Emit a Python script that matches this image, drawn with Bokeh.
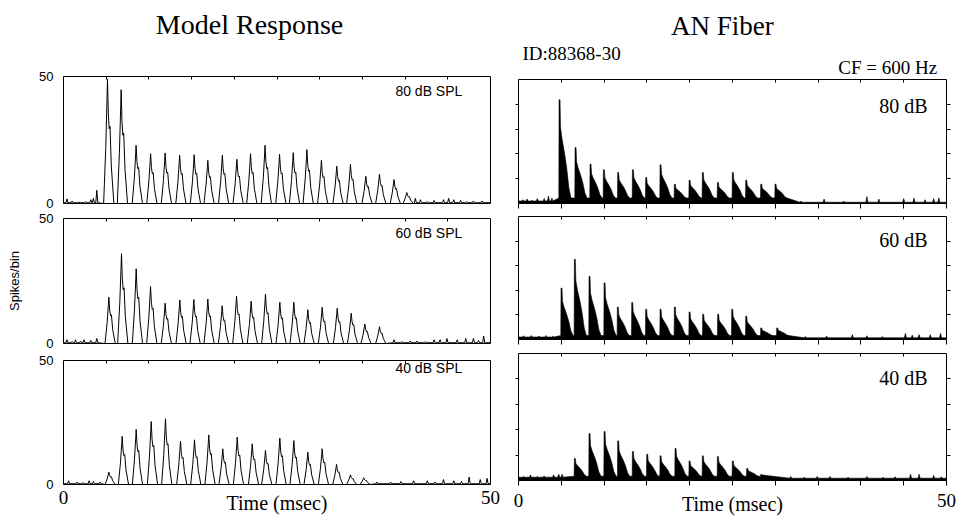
import math
from bokeh.plotting import figure
from bokeh.models import Range1d, LinearAxis, FixedTicker, Label
from bokeh.layouts import row, column
from bokeh.embed import file_html
from bokeh.resources import INLINE

# ---------------- data ----------------
time_range = [0, 50]          # msec
count_range = [0, 50]         # spikes/bin
model_levels = ["80 dB SPL", "60 dB SPL", "40 dB SPL"]
an_levels = ["80 dB", "60 dB", "40 dB"]

# Model response: phase-locked peak times (msec) and heights (spikes/bin)
model80_t = [5.15, 6.75, 8.5, 10.2, 11.9, 13.6, 15.3, 16.9, 18.6, 20.3, 21.9, 23.6, 25.3, 26.9, 28.5, 30.2, 32.0, 33.6, 35.4, 37.0, 38.7, 40.2]
model80_h = [49, 44.8, 22.9, 19.6, 19.9, 19.0, 19.2, 17.0, 19.0, 17.4, 19.6, 22.9, 19.4, 20.0, 21.2, 17.0, 14.7, 15.4, 10.7, 11.5, 9.4, 4.3]
model60_t = [5.31, 6.79, 8.51, 10.19, 11.9, 13.62, 15.26, 16.9, 18.58, 20.26, 21.97, 23.65, 25.33, 26.97, 28.61, 30.29, 32.05, 33.69, 35.28, 37.0]
model60_h = [18.5, 35.9, 29.9, 22.8, 16.1, 17.4, 17.6, 17.8, 15.1, 19.0, 16.9, 19.8, 16.5, 16.5, 13.5, 14.5, 14.1, 12.1, 7.8, 6.7]
model40_t = [5.31, 6.87, 8.51, 10.27, 11.94, 13.7, 15.34, 17.01, 18.65, 20.34, 22.1, 23.65, 25.33, 26.97, 28.61, 30.29, 31.97, 33.6, 35.16]
model40_h = [5.0, 19.4, 22.2, 25.4, 26.5, 17.5, 18.0, 20.0, 14.4, 19.1, 16.4, 13.7, 18.7, 17.7, 13.0, 14.4, 8.1, 3.9, 2.7]

# Model response: spontaneous-activity blips (msec, spikes/bin)
model80_noise_t = [0.4, 1.0, 1.8, 2.6, 3.2, 3.5, 3.9, 41.2, 41.8, 42.6, 43.4, 44.5, 45.1, 45.7, 46.5, 47.2, 48.0, 49.0]
model80_noise_h = [1.8, 1.0, 0.6, 0.8, 1.5, 2.0, 5.2, 2.0, 1.5, 0.8, 1.2, 1.5, 2.0, 1.5, 1.2, 0.8, 1.0, 1.0]
model60_noise_t = [0.4, 1.0, 1.4, 2.0, 2.4, 3.2, 3.9, 38.7, 39.6, 40.6, 41.4, 42.4, 43.4, 44.1, 44.9, 46.1, 47.1, 48.0, 48.6, 49.2]
model60_noise_h = [1.5, 0.8, 1.5, 1.0, 1.5, 1.2, 2.0, 1.5, 0.8, 1.0, 1.0, 0.8, 1.5, 1.5, 2.0, 1.5, 2.0, 2.0, 1.2, 3.0]
model40_noise_t = [0.6, 1.6, 2.3, 3.0, 3.5, 4.3, 36.7, 38.3, 39.5, 41.0, 42.6, 43.5, 44.5, 45.7, 46.6, 47.5, 48.8, 49.6]
model40_noise_h = [1.5, 1.0, 0.8, 1.5, 1.2, 1.0, 1.0, 1.0, 1.2, 1.5, 1.5, 1.0, 2.0, 1.5, 1.2, 3.0, 2.0, 2.5]

# AN fiber: peak times (msec) and heights
an80_t = [4.79, 6.66, 8.41, 9.97, 11.64, 13.36, 14.91, 16.59, 18.26, 19.98, 21.53, 23.29, 25.03, 26.6, 28.35, 30.02]
an80_h = [41.8, 22.6, 15.9, 13.6, 12.5, 13.6, 10.5, 15.6, 7.8, 9.4, 12.5, 8.5, 12.5, 9.4, 7.8, 7.8]
an60_t = [5.02, 6.58, 8.29, 10.05, 11.6, 13.28, 14.91, 16.59, 18.26, 19.98, 21.57, 23.32, 24.96, 26.6, 28.35, 30.22]
an60_h = [20.9, 32.6, 25.7, 23.0, 13.2, 15.0, 12.3, 12.3, 13.2, 11.2, 10.3, 10.3, 12.3, 9.5, 4.7, 4.7]
an40_t = [6.58, 8.29, 10.05, 11.64, 13.36, 15.03, 16.59, 18.34, 19.98, 21.53, 23.29, 25.03, 26.71, 28.35]
an40_h = [8.7, 18.5, 19.3, 15.6, 11.4, 10.3, 9.7, 12.6, 7.7, 9.7, 9.4, 7.7, 4.8, 2.4]

# AN fiber: background levels (before, between peaks, after) and blips
an80_levels = [1.0, 2.2, 0.5]
an60_levels = [1.0, 1.6, 0.7]
an40_levels = [1.3, 1.7, 0.9]
an80_noise_t = [0.5, 1.0, 1.6, 2.2, 3.0, 3.5, 3.9, 33.0, 35.7, 38.0, 40.7, 42.1, 45.0, 46.2, 47.5, 48.5, 49.1]
an80_noise_h = [1.5, 1.8, 1.3, 2.0, 2.0, 3.0, 2.2, 1.0, 1.8, 1.0, 2.8, 1.8, 2.0, 2.2, 1.5, 2.0, 2.3]
an60_noise_t = [0.6, 1.5, 2.4, 3.2, 4.0, 33.5, 36.0, 39.0, 40.7, 42.5, 45.2, 46.0, 46.8, 48.1, 49.3]
an60_noise_h = [1.5, 1.6, 1.4, 1.6, 1.3, 1.2, 1.4, 2.0, 1.5, 1.2, 2.5, 1.8, 2.0, 2.0, 2.5]
an40_noise_t = [0.6, 1.4, 2.2, 3.0, 4.1, 4.7, 5.1, 31.8, 33.4, 34.9, 36.4, 38.5, 40.7, 42.6, 44.0, 45.8, 46.8, 48.5, 49.4]
an40_noise_h = [1.6, 2.2, 1.6, 1.8, 2.2, 2.5, 2.5, 1.6, 1.3, 1.6, 1.6, 1.3, 1.6, 1.3, 1.5, 2.5, 2.5, 2.0, 1.5]

x_ticks_inner = [5, 10, 15, 20, 25, 30, 35, 40, 45]
x_ticks_all = [0, 5, 10, 15, 20, 25, 30, 35, 40, 45, 50]
x_ticks_labelled = [0, 50]
y_ticks_an = [10, 20, 30, 40]
y_ticks_model = [0, 50]

# ---------------- style ----------------
SANS = "Liberation Sans"
SERIF = "Liberation Serif"
# peak shape templates (offset in msec, fraction of peak height)
MODEL_DT = [-0.45, -0.2, -0.05, 0.0, 0.1, 0.2, 0.3, 0.45, 0.75]
MODEL_REL = [0.0, 0.45, 0.85, 1.0, 0.72, 0.6, 0.62, 0.3, 0.0]
AN_DT = [-0.08, -0.05, 0.06, 0.12, 0.3, 0.6, 0.85, 1.1, 1.35]
AN_REL = [0.0, 1.0, 1.0, 0.72, 0.6, 0.45, 0.3, 0.1, 0.0]
BLIP = 0.12


def trace(pt, ph, nt, nh, dt, rel, levels):
    pre, mid, post = levels
    events = []
    for t, h in zip(pt, ph):
        events.append((t, [(t + d, mid + r * (h - mid)) for d, r in zip(dt, rel)]))
    for t, h in zip(nt, nh):
        base = pre if t < pt[0] else post
        events.append((t, [(t - BLIP, base), (t, h), (t + BLIP, base)]))
    events.sort(key=lambda e: e[0])
    xs, ys = [time_range[0]], [pre]
    for _, pts in events:
        for x, y in pts:
            xs.append(x)
            ys.append(y)
    xs.append(time_range[1])
    ys.append(post)
    return xs, ys


def make_fig(w, h, bl, br, bt, bb, y_range=None, outline=True):
    p = figure(width=w, height=h, title=None, x_range=Range1d(*time_range),
               y_range=y_range if y_range is not None else Range1d(*count_range),
               output_backend="svg", toolbar_location=None,
               x_axis_location=None, y_axis_location=None)
    p.min_border_left, p.min_border_right = bl, br
    p.min_border_top, p.min_border_bottom = bt, bb
    p.outline_line_color = "black" if outline else None
    p.outline_line_width = 1
    p.background_fill_color = "white"
    p.border_fill_color = "white"
    p.grid.visible = False
    return p


def tick_axis(ticks, tin, tout):
    return LinearAxis(ticker=FixedTicker(ticks=ticks), major_tick_in=tin, major_tick_out=tout,
                      major_tick_line_color="black", minor_tick_line_color=None,
                      axis_line_color=None, major_label_text_font_size="0px",
                      major_label_text_color=None, major_label_standoff=0)


def label_axis(ticks, size, font, standoff):
    return LinearAxis(ticker=FixedTicker(ticks=ticks), major_tick_in=0, major_tick_out=0,
                      major_tick_line_color=None, minor_tick_line_color=None,
                      axis_line_color=None, major_label_text_font=font,
                      major_label_text_font_size=size, major_label_standoff=standoff,
                      major_label_text_color="black", axis_label_text_font=SERIF,
                      axis_label_text_font_style="normal", axis_label_text_color="black")


def label(p, text, x, y, font, size, align="left"):
    p.add_layout(Label(x=x, y=y, text=text, text_font=font, text_font_size=size,
                       text_align=align, text_baseline="alphabetic", text_color="black"))


# ---------------- left column: model response ----------------
left_head = make_fig(500, 66, 63, 10, 0, 0, y_range=Range1d(0, 66), outline=False)
label(left_head, "Model  Response", 22.2, 42, SERIF, "28px", align="center")

model_data = [
    (model80_t, model80_h, model80_noise_t, model80_noise_h),
    (model60_t, model60_h, model60_noise_t, model60_noise_h),
    (model40_t, model40_h, model40_noise_t, model40_noise_h),
]
left_h = [144, 141, 170]
left_bt = [10, 8, 9]
left_bb = [7, 8, 37]
left_label_y = [44.1, 44.4, 46.8]
left_figs = []
for i, (pt, ph, nt, nh) in enumerate(model_data):
    p = make_fig(500, left_h[i], 63, 10, left_bt[i], left_bb[i])
    xs, ys = trace(pt, ph, nt, nh, MODEL_DT, MODEL_REL, [0.3, 0.0, 0.3])
    p.line(xs, ys, line_color="black", line_width=1)
    p.add_layout(tick_axis(x_ticks_inner, 3, 0), "above")
    yax = label_axis(y_ticks_model, "13px", SANS, 10)
    if i == 1:
        yax.axis_label = "Spikes/bin"
        yax.axis_label_text_font = SANS
        yax.axis_label_text_font_size = "13px"
        yax.axis_label_standoff = 14
    p.add_layout(yax, "left")
    label(p, model_levels[i], 46.7, left_label_y[i], SANS, "14px", align="right")
    left_figs.append(p)

bx = label_axis(x_ticks_labelled, "19px", SERIF, 6)
bx.axis_label = "Time (msec)"
bx.axis_label_text_font_size = "20px"
bx.axis_label_standoff = -15
left_figs[2].add_layout(bx, "below")

# ---------------- right column: AN fiber ----------------
right_head = make_fig(461, 79, 18, 15, 0, 0, y_range=Range1d(0, 79), outline=False)
label(right_head, "AN   Fiber", 24.6, 54, SERIF, "27px", align="center")
label(right_head, "ID:88368-30", 0.47, 26, SERIF, "19px", align="left")
label(right_head, "CF = 600 Hz", 48.9, 12, SERIF, "19px", align="right")

an_data = [
    (an80_t, an80_h, an80_noise_t, an80_noise_h, an80_levels),
    (an60_t, an60_h, an60_noise_t, an60_noise_h, an60_levels),
    (an40_t, an40_h, an40_noise_t, an40_noise_h, an40_levels),
]
right_h = [130, 137, 175]
right_bt = [0, 7, 7]
right_bb = [6, 7, 41]
right_label_y = [39.5, 40.6, 40.2]
right_figs = []
for i, (pt, ph, nt, nh, lv) in enumerate(an_data):
    p = make_fig(461, right_h[i], 18, 15, right_bt[i], right_bb[i])
    xs, ys = trace(pt, ph, nt, nh, AN_DT, AN_REL, lv)
    px = [time_range[0]] + xs + [time_range[1]]
    py = [0] + ys + [0]
    p.patch(px, py, fill_color="black", line_color="black", line_width=0.6)
    p.add_layout(tick_axis(x_ticks_inner, 3, 0), "above")
    p.add_layout(tick_axis(y_ticks_an, 0, 3), "left")
    p.add_layout(tick_axis(y_ticks_an, 0, 4), "right")
    p.add_layout(tick_axis(x_ticks_all, 0, 5), "below")
    if i == 2:
        rb = label_axis(x_ticks_labelled, "19px", SERIF, 8)
        rb.axis_label = "Time (msec)"
        rb.axis_label_text_font_size = "20px"
        rb.axis_label_standoff = -17
        p.add_layout(rb, "below")
    label(p, an_levels[i], 47.8, right_label_y[i], SERIF, "20px", align="right")
    right_figs.append(p)

layout = row(column(left_head, *left_figs, spacing=0),
             column(right_head, *right_figs, spacing=0), spacing=0)
open("out.html", "w").write(file_html(layout, INLINE))
